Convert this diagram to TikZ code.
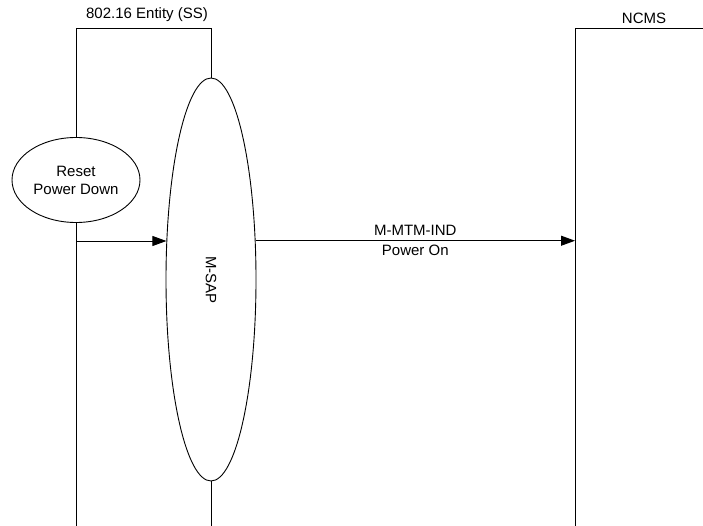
\documentclass[tikz,border=0pt]{standalone}
\usepackage{fontspec}
\setmainfont{Liberation Sans}
\usetikzlibrary{arrows.meta,shapes.geometric}
\begin{document}
\begin{tikzpicture}[x=1pt,y=-1pt,
  every node/.style={font=\fontsize{15}{18}\selectfont},
  lifeline/.style={line width=0.9pt},
  bubble/.style={draw,line width=0.9pt,ellipse,inner sep=0pt,fill=white},
  msg/.style={line width=0.9pt,-{Triangle[length=14pt,width=10pt]}}]
\useasboundingbox (0,0) rectangle (703,526);
\node (ent) at (147,15) {802.16 Entity (SS)};
\node (ncms) at (644,18) {NCMS};
\node[bubble,minimum width=90pt,minimum height=403pt] (msap) at (211,279.5) {};
\node[rotate=-90] (msaplbl) at (211,280) {M-SAP};
\node[bubble,minimum width=128pt,minimum height=85pt,align=center] (reset) at (76,180) {Reset\\Power Down};
\coordinate (sstop) at (76,28);
\coordinate (msaptop) at (211,28);
\coordinate (ssbot) at (76,526);
\coordinate (msapbot) at (211,526);
\coordinate (ntop) at (575,28);
\coordinate (nright) at (703,28);
\coordinate (nbot) at (575,526);
\coordinate (a1) at (76,241);
\coordinate (a2) at (575,241);
\draw[lifeline] (reset.north) -- (sstop) -- (msaptop) -- (msap.north);
\draw[lifeline] (reset.south) -- (ssbot);
\draw[lifeline] (msap.south) -- (msapbot);
\draw[lifeline] (nright) -- (ntop) -- (nbot);
\draw[msg] (a1) -- (a1 -| msap.139);
\draw[msg] (msap.41) -- (a2 |- msap.41) node[pos=0.5,above=1pt] (m1) {M-MTM-IND} node[pos=0.5,below=1pt] (m2) {Power On};
\end{tikzpicture}
\end{document}
